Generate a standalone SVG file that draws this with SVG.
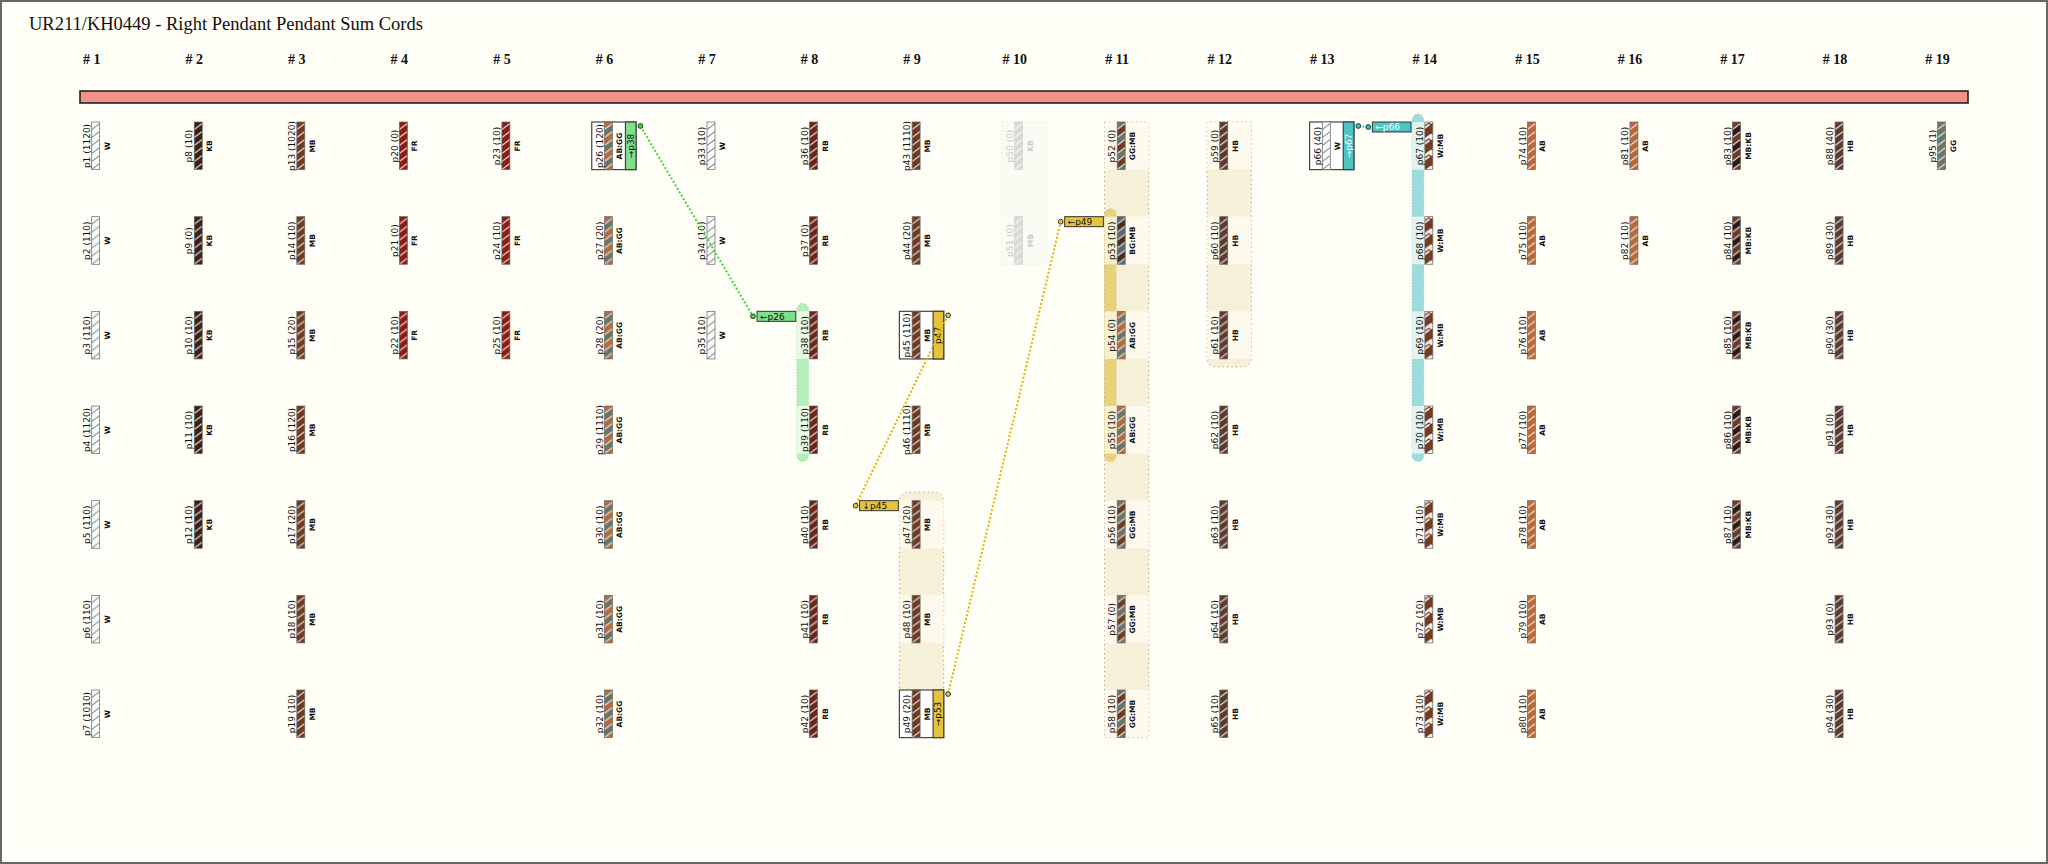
<svg xmlns="http://www.w3.org/2000/svg" width="2048" height="864" viewBox="0 0 2048 864">
<style>
.n{font-family:"DejaVu Sans",sans-serif;font-size:9px;fill:#111;text-anchor:middle}
.l{font-family:"DejaVu Sans",sans-serif;font-size:7.5px;font-weight:bold;fill:#111;text-anchor:middle}
.k{font-family:"DejaVu Sans",sans-serif;font-size:9px;fill:#111;text-anchor:middle}
.kw{fill:#fff}
.f .n,.f .l{fill:#cacaca}
.h{font-family:"Liberation Serif",serif;font-size:14px;font-weight:bold;fill:#111;text-anchor:middle}
.c{fill:#fffef6;fill-opacity:0.7}
.st{stroke:#666;stroke-width:0.7}
.box{fill:#fff;stroke:#444;stroke-width:1.2}
.band{fill:#f7f0d8;stroke:#9a9a9a;stroke-width:1;stroke-dasharray:1.2 3.3}
.tag{stroke:#333;stroke-width:1}
.tt{font-family:"DejaVu Sans",sans-serif;font-size:9px;fill:#111}
.dot{stroke:#222;stroke-width:0.9}
.cn{fill:none;stroke-width:2;stroke-dasharray:2 2}
</style>
<defs>
<pattern id="pW" patternUnits="userSpaceOnUse" width="8" height="8"><rect width="8" height="8" fill="#fafafa"/><path d="M0,7.5L8,1.5" stroke="#6a6a6a" stroke-width="1"/></pattern>
<pattern id="pKB" patternUnits="userSpaceOnUse" width="8" height="8"><rect width="8" height="8" fill="#3a2016"/><path d="M0,7.5L8,1.5" stroke="#e4dcd4" stroke-width="1.1"/></pattern>
<pattern id="pMB" patternUnits="userSpaceOnUse" width="8" height="8"><rect width="8" height="8" fill="#6e3a22"/><path d="M0,7.5L8,1.5" stroke="#e4dcd4" stroke-width="1.1"/></pattern>
<pattern id="pFR" patternUnits="userSpaceOnUse" width="8" height="8"><rect width="8" height="8" fill="#8a1d16"/><path d="M0,7.5L8,1.5" stroke="#e4dcd4" stroke-width="1.1"/></pattern>
<pattern id="pRB" patternUnits="userSpaceOnUse" width="8" height="8"><rect width="8" height="8" fill="#6b251a"/><path d="M0,7.5L8,1.5" stroke="#e4dcd4" stroke-width="1.1"/></pattern>
<pattern id="pAB" patternUnits="userSpaceOnUse" width="8" height="8"><rect width="8" height="8" fill="#b8693a"/><path d="M0,7.5L8,1.5" stroke="#ece4dc" stroke-width="1.1"/></pattern>
<pattern id="pHB" patternUnits="userSpaceOnUse" width="8" height="8"><rect width="8" height="8" fill="#5c3b2f"/><path d="M0,7.5L8,1.5" stroke="#e4dcd4" stroke-width="1.1"/></pattern>
<pattern id="pGG" patternUnits="userSpaceOnUse" width="8" height="8"><rect width="8" height="8" fill="#6b7565"/><path d="M0,7.5L8,1.5" stroke="#e4e4dc" stroke-width="1.1"/></pattern>
<pattern id="pFD" patternUnits="userSpaceOnUse" width="8" height="8"><rect width="8" height="8" fill="#dcd9d3"/><path d="M0,7.5L8,1.5" stroke="#f7f7f5" stroke-width="1.1"/></pattern>
<pattern id="pABGG" patternUnits="userSpaceOnUse" width="8" height="16"><rect width="8" height="16" fill="#b8693a"/><path d="M0,7.5L8,1.5L8,9.5L0,15.5Z" fill="#6b7565"/><path d="M0,7.5L8,1.5M0,15.5L8,9.5" stroke="#e4e0d8" stroke-width="1.1"/></pattern>
<pattern id="pGGMB" patternUnits="userSpaceOnUse" width="8" height="16"><rect width="8" height="16" fill="#6b7565"/><path d="M0,7.5L8,1.5L8,9.5L0,15.5Z" fill="#6e3a22"/><path d="M0,7.5L8,1.5M0,15.5L8,9.5" stroke="#e4e0d8" stroke-width="1.1"/></pattern>
<pattern id="pBGMB" patternUnits="userSpaceOnUse" width="8" height="16"><rect width="8" height="16" fill="#56667a"/><path d="M0,7.5L8,1.5L8,9.5L0,15.5Z" fill="#4a2c20"/><path d="M0,7.5L8,1.5M0,15.5L8,9.5" stroke="#e4e0d8" stroke-width="1.1"/></pattern>
<pattern id="pMBKB" patternUnits="userSpaceOnUse" width="8" height="16"><rect width="8" height="16" fill="#6e3a22"/><path d="M0,7.5L8,1.5L8,9.5L0,15.5Z" fill="#2e1a12"/><path d="M0,7.5L8,1.5M0,15.5L8,9.5" stroke="#e4e0d8" stroke-width="1.1"/></pattern>
<pattern id="pWMB" patternUnits="userSpaceOnUse" width="8" height="16"><rect width="8" height="16" fill="#f4efe8"/><path d="M0,7.5L8,1.5L8,9.5L0,15.5Z" fill="#7a3a20"/><path d="M0,4L4,1L8,4M0,12L4,9.5L8,12" fill="none" stroke="#7a3a20" stroke-width="1.2"/><path d="M0,7.5L8,1.5M0,15.5L8,9.5" stroke="#3a2016" stroke-width="0.8"/></pattern>
<rect id="sW" class="st" width="8" height="47.6" fill="url(#pW)"/>
<rect id="sKB" class="st" width="8" height="47.6" fill="url(#pKB)"/>
<rect id="sMB" class="st" width="8" height="47.6" fill="url(#pMB)"/>
<rect id="sFR" class="st" width="8" height="47.6" fill="url(#pFR)"/>
<rect id="sRB" class="st" width="8" height="47.6" fill="url(#pRB)"/>
<rect id="sAB" class="st" width="8" height="47.6" fill="url(#pAB)"/>
<rect id="sHB" class="st" width="8" height="47.6" fill="url(#pHB)"/>
<rect id="sGG" class="st" width="8" height="47.6" fill="url(#pGG)"/>
<rect id="sFD" width="8" height="47.6" fill="url(#pFD)" stroke="#d0d0d0" stroke-width="0.7"/>
<rect id="sABGG" class="st" width="8" height="47.6" fill="url(#pABGG)"/>
<rect id="sGGMB" class="st" width="8" height="47.6" fill="url(#pGGMB)"/>
<rect id="sBGMB" class="st" width="8" height="47.6" fill="url(#pBGMB)"/>
<rect id="sMBKB" class="st" width="8" height="47.6" fill="url(#pMBKB)"/>
<rect id="sWMB" class="st" width="8" height="47.6" fill="url(#pWMB)"/>
<rect id="cell" class="c" x="-12.7" width="44.3" height="47.6"/>
</defs>

<rect width="2048" height="864" fill="#fffef6"/>
<rect x="1" y="1" width="2046" height="862" fill="none" stroke="#666" stroke-width="2"/>
<text x="29" y="30" font-family="Liberation Serif, serif" font-size="18.5" fill="#111">UR211/KH0449 - Right Pendant Pendant Sum Cords</text>

<g id="headers">
<text class="h" x="91.7" y="64"># 1</text>
<text class="h" x="194.25" y="64"># 2</text>
<text class="h" x="296.8" y="64"># 3</text>
<text class="h" x="399.35" y="64"># 4</text>
<text class="h" x="501.9" y="64"># 5</text>
<text class="h" x="604.45" y="64"># 6</text>
<text class="h" x="707" y="64"># 7</text>
<text class="h" x="809.55" y="64"># 8</text>
<text class="h" x="912.1" y="64"># 9</text>
<text class="h" x="1014.65" y="64"># 10</text>
<text class="h" x="1117.2" y="64"># 11</text>
<text class="h" x="1219.75" y="64"># 12</text>
<text class="h" x="1322.3" y="64"># 13</text>
<text class="h" x="1424.85" y="64"># 14</text>
<text class="h" x="1527.4" y="64"># 15</text>
<text class="h" x="1629.95" y="64"># 16</text>
<text class="h" x="1732.5" y="64"># 17</text>
<text class="h" x="1835.05" y="64"># 18</text>
<text class="h" x="1937.6" y="64"># 19</text>
</g>

<rect id="primary" x="80" y="91" width="1888" height="12" fill="#f0928a" stroke="#222" stroke-width="1.6"/>

<g id="bands">
<rect x="1001.95" y="122" width="44.3" height="142.3" fill="#fcfbf3" stroke="#e0e0e0" stroke-width="1" stroke-dasharray="1.2 3.3"/>
<rect class="band" x="1104.5" y="122" width="44.3" height="615.6"/>
<path class="band" d="M899.4,737.6V502Q899.4,492 909.4,492H933.7Q943.7,492 943.7,502V737.6Z"/>
<path class="band" d="M1207.05,122V357Q1207.05,367 1217.05,367H1241.35Q1251.35,367 1251.35,357V122Z"/>
<rect x="796.85" y="303.3" width="11.6" height="158.3" rx="5.8" fill="#b3efb8" stroke="#8fd39a" stroke-width="0.8" stroke-dasharray="1.2 2"/>
<rect x="1104.5" y="208.7" width="11.6" height="252.9" rx="5.8" fill="#e8d27c" stroke="#cdb65e" stroke-width="0.8" stroke-dasharray="1.2 2"/>
<rect x="1412.15" y="114" width="11.6" height="347.6" rx="5.8" fill="#9edcdc" stroke="#7cc4c4" stroke-width="0.8" stroke-dasharray="1.2 2"/>
</g>

<g id="nodes">
<g id="p1" transform="translate(91.7,122)"><use href="#cell"/><use href="#sW"/><g transform="rotate(-90)"><text class="n" x="-24" y="-1.8">p1 (1120)</text><text class="l" x="-24" y="18">W</text></g></g>
<g id="p2" transform="translate(91.7,216.67)"><use href="#cell"/><use href="#sW"/><g transform="rotate(-90)"><text class="n" x="-24" y="-1.8">p2 (110)</text><text class="l" x="-24" y="18">W</text></g></g>
<g id="p3" transform="translate(91.7,311.33)"><use href="#cell"/><use href="#sW"/><g transform="rotate(-90)"><text class="n" x="-24" y="-1.8">p3 (110)</text><text class="l" x="-24" y="18">W</text></g></g>
<g id="p4" transform="translate(91.7,406)"><use href="#cell"/><use href="#sW"/><g transform="rotate(-90)"><text class="n" x="-24" y="-1.8">p4 (1120)</text><text class="l" x="-24" y="18">W</text></g></g>
<g id="p5" transform="translate(91.7,500.67)"><use href="#cell"/><use href="#sW"/><g transform="rotate(-90)"><text class="n" x="-24" y="-1.8">p5 (110)</text><text class="l" x="-24" y="18">W</text></g></g>
<g id="p6" transform="translate(91.7,595.33)"><use href="#cell"/><use href="#sW"/><g transform="rotate(-90)"><text class="n" x="-24" y="-1.8">p6 (110)</text><text class="l" x="-24" y="18">W</text></g></g>
<g id="p7" transform="translate(91.7,690)"><use href="#cell"/><use href="#sW"/><g transform="rotate(-90)"><text class="n" x="-24" y="-1.8">p7 (1010)</text><text class="l" x="-24" y="18">W</text></g></g>

<g id="p8" transform="translate(194.25,122)"><use href="#cell"/><use href="#sKB"/><g transform="rotate(-90)"><text class="n" x="-24" y="-1.8">p8 (10)</text><text class="l" x="-24" y="18">KB</text></g></g>
<g id="p9" transform="translate(194.25,216.67)"><use href="#cell"/><use href="#sKB"/><g transform="rotate(-90)"><text class="n" x="-24" y="-1.8">p9 (0)</text><text class="l" x="-24" y="18">KB</text></g></g>
<g id="p10" transform="translate(194.25,311.33)"><use href="#cell"/><use href="#sKB"/><g transform="rotate(-90)"><text class="n" x="-24" y="-1.8">p10 (10)</text><text class="l" x="-24" y="18">KB</text></g></g>
<g id="p11" transform="translate(194.25,406)"><use href="#cell"/><use href="#sKB"/><g transform="rotate(-90)"><text class="n" x="-24" y="-1.8">p11 (10)</text><text class="l" x="-24" y="18">KB</text></g></g>
<g id="p12" transform="translate(194.25,500.67)"><use href="#cell"/><use href="#sKB"/><g transform="rotate(-90)"><text class="n" x="-24" y="-1.8">p12 (10)</text><text class="l" x="-24" y="18">KB</text></g></g>

<g id="p13" transform="translate(296.8,122)"><use href="#cell"/><use href="#sMB"/><g transform="rotate(-90)"><text class="n" x="-24" y="-1.8">p13 (1020)</text><text class="l" x="-24" y="18">MB</text></g></g>
<g id="p14" transform="translate(296.8,216.67)"><use href="#cell"/><use href="#sMB"/><g transform="rotate(-90)"><text class="n" x="-24" y="-1.8">p14 (10)</text><text class="l" x="-24" y="18">MB</text></g></g>
<g id="p15" transform="translate(296.8,311.33)"><use href="#cell"/><use href="#sMB"/><g transform="rotate(-90)"><text class="n" x="-24" y="-1.8">p15 (20)</text><text class="l" x="-24" y="18">MB</text></g></g>
<g id="p16" transform="translate(296.8,406)"><use href="#cell"/><use href="#sMB"/><g transform="rotate(-90)"><text class="n" x="-24" y="-1.8">p16 (120)</text><text class="l" x="-24" y="18">MB</text></g></g>
<g id="p17" transform="translate(296.8,500.67)"><use href="#cell"/><use href="#sMB"/><g transform="rotate(-90)"><text class="n" x="-24" y="-1.8">p17 (20)</text><text class="l" x="-24" y="18">MB</text></g></g>
<g id="p18" transform="translate(296.8,595.33)"><use href="#cell"/><use href="#sMB"/><g transform="rotate(-90)"><text class="n" x="-24" y="-1.8">p18 (10)</text><text class="l" x="-24" y="18">MB</text></g></g>
<g id="p19" transform="translate(296.8,690)"><use href="#cell"/><use href="#sMB"/><g transform="rotate(-90)"><text class="n" x="-24" y="-1.8">p19 (10)</text><text class="l" x="-24" y="18">MB</text></g></g>

<g id="p20" transform="translate(399.35,122)"><use href="#cell"/><use href="#sFR"/><g transform="rotate(-90)"><text class="n" x="-24" y="-1.8">p20 (0)</text><text class="l" x="-24" y="18">FR</text></g></g>
<g id="p21" transform="translate(399.35,216.67)"><use href="#cell"/><use href="#sFR"/><g transform="rotate(-90)"><text class="n" x="-24" y="-1.8">p21 (0)</text><text class="l" x="-24" y="18">FR</text></g></g>
<g id="p22" transform="translate(399.35,311.33)"><use href="#cell"/><use href="#sFR"/><g transform="rotate(-90)"><text class="n" x="-24" y="-1.8">p22 (10)</text><text class="l" x="-24" y="18">FR</text></g></g>

<g id="p23" transform="translate(501.9,122)"><use href="#cell"/><use href="#sFR"/><g transform="rotate(-90)"><text class="n" x="-24" y="-1.8">p23 (10)</text><text class="l" x="-24" y="18">FR</text></g></g>
<g id="p24" transform="translate(501.9,216.67)"><use href="#cell"/><use href="#sFR"/><g transform="rotate(-90)"><text class="n" x="-24" y="-1.8">p24 (10)</text><text class="l" x="-24" y="18">FR</text></g></g>
<g id="p25" transform="translate(501.9,311.33)"><use href="#cell"/><use href="#sFR"/><g transform="rotate(-90)"><text class="n" x="-24" y="-1.8">p25 (10)</text><text class="l" x="-24" y="18">FR</text></g></g>

<g id="p26" transform="translate(604.45,122)"><rect class="box" x="-12.7" width="44.3" height="47.6"/><rect x="21" width="10.6" height="47.6" fill="#7ee08a" stroke="#444" stroke-width="1.2"/><use href="#sABGG"/><g transform="rotate(-90)"><text class="n" x="-24" y="-1.8">p26 (120)</text><text class="l" x="-24" y="18">AB:GG</text><text class="k" x="-24" y="29.3">→p38</text></g></g>
<g id="p27" transform="translate(604.45,216.67)"><use href="#cell"/><use href="#sABGG"/><g transform="rotate(-90)"><text class="n" x="-24" y="-1.8">p27 (20)</text><text class="l" x="-24" y="18">AB:GG</text></g></g>
<g id="p28" transform="translate(604.45,311.33)"><use href="#cell"/><use href="#sABGG"/><g transform="rotate(-90)"><text class="n" x="-24" y="-1.8">p28 (20)</text><text class="l" x="-24" y="18">AB:GG</text></g></g>
<g id="p29" transform="translate(604.45,406)"><use href="#cell"/><use href="#sABGG"/><g transform="rotate(-90)"><text class="n" x="-24" y="-1.8">p29 (1110)</text><text class="l" x="-24" y="18">AB:GG</text></g></g>
<g id="p30" transform="translate(604.45,500.67)"><use href="#cell"/><use href="#sABGG"/><g transform="rotate(-90)"><text class="n" x="-24" y="-1.8">p30 (10)</text><text class="l" x="-24" y="18">AB:GG</text></g></g>
<g id="p31" transform="translate(604.45,595.33)"><use href="#cell"/><use href="#sABGG"/><g transform="rotate(-90)"><text class="n" x="-24" y="-1.8">p31 (10)</text><text class="l" x="-24" y="18">AB:GG</text></g></g>
<g id="p32" transform="translate(604.45,690)"><use href="#cell"/><use href="#sABGG"/><g transform="rotate(-90)"><text class="n" x="-24" y="-1.8">p32 (10)</text><text class="l" x="-24" y="18">AB:GG</text></g></g>

<g id="p33" transform="translate(707,122)"><use href="#cell"/><use href="#sW"/><g transform="rotate(-90)"><text class="n" x="-24" y="-1.8">p33 (10)</text><text class="l" x="-24" y="18">W</text></g></g>
<g id="p34" transform="translate(707,216.67)"><use href="#cell"/><use href="#sW"/><g transform="rotate(-90)"><text class="n" x="-24" y="-1.8">p34 (10)</text><text class="l" x="-24" y="18">W</text></g></g>
<g id="p35" transform="translate(707,311.33)"><use href="#cell"/><use href="#sW"/><g transform="rotate(-90)"><text class="n" x="-24" y="-1.8">p35 (10)</text><text class="l" x="-24" y="18">W</text></g></g>

<g id="p36" transform="translate(809.55,122)"><use href="#cell"/><use href="#sRB"/><g transform="rotate(-90)"><text class="n" x="-24" y="-1.8">p36 (10)</text><text class="l" x="-24" y="18">RB</text></g></g>
<g id="p37" transform="translate(809.55,216.67)"><use href="#cell"/><use href="#sRB"/><g transform="rotate(-90)"><text class="n" x="-24" y="-1.8">p37 (0)</text><text class="l" x="-24" y="18">RB</text></g></g>
<g id="p38" transform="translate(809.55,311.33)"><use href="#cell"/><use href="#sRB"/><g transform="rotate(-90)"><text class="n" x="-24" y="-1.8">p38 (10)</text><text class="l" x="-24" y="18">RB</text></g></g>
<g id="p39" transform="translate(809.55,406)"><use href="#cell"/><use href="#sRB"/><g transform="rotate(-90)"><text class="n" x="-24" y="-1.8">p39 (110)</text><text class="l" x="-24" y="18">RB</text></g></g>
<g id="p40" transform="translate(809.55,500.67)"><use href="#cell"/><use href="#sRB"/><g transform="rotate(-90)"><text class="n" x="-24" y="-1.8">p40 (10)</text><text class="l" x="-24" y="18">RB</text></g></g>
<g id="p41" transform="translate(809.55,595.33)"><use href="#cell"/><use href="#sRB"/><g transform="rotate(-90)"><text class="n" x="-24" y="-1.8">p41 (10)</text><text class="l" x="-24" y="18">RB</text></g></g>
<g id="p42" transform="translate(809.55,690)"><use href="#cell"/><use href="#sRB"/><g transform="rotate(-90)"><text class="n" x="-24" y="-1.8">p42 (10)</text><text class="l" x="-24" y="18">RB</text></g></g>

<g id="p43" transform="translate(912.1,122)"><use href="#cell"/><use href="#sMB"/><g transform="rotate(-90)"><text class="n" x="-24" y="-1.8">p43 (1110)</text><text class="l" x="-24" y="18">MB</text></g></g>
<g id="p44" transform="translate(912.1,216.67)"><use href="#cell"/><use href="#sMB"/><g transform="rotate(-90)"><text class="n" x="-24" y="-1.8">p44 (20)</text><text class="l" x="-24" y="18">MB</text></g></g>
<g id="p45" transform="translate(912.1,311.33)"><rect class="box" x="-12.7" width="44.3" height="47.6"/><rect x="21" width="10.6" height="47.6" fill="#e5c43c" stroke="#444" stroke-width="1.2"/><use href="#sMB"/><g transform="rotate(-90)"><text class="n" x="-24" y="-1.8">p45 (110)</text><text class="l" x="-24" y="18">MB</text><text class="k" x="-24" y="29.3">p47</text></g></g>
<g id="p46" transform="translate(912.1,406)"><use href="#cell"/><use href="#sMB"/><g transform="rotate(-90)"><text class="n" x="-24" y="-1.8">p46 (1110)</text><text class="l" x="-24" y="18">MB</text></g></g>
<g id="p47" transform="translate(912.1,500.67)"><use href="#cell"/><use href="#sMB"/><g transform="rotate(-90)"><text class="n" x="-24" y="-1.8">p47 (20)</text><text class="l" x="-24" y="18">MB</text></g></g>
<g id="p48" transform="translate(912.1,595.33)"><use href="#cell"/><use href="#sMB"/><g transform="rotate(-90)"><text class="n" x="-24" y="-1.8">p48 (10)</text><text class="l" x="-24" y="18">MB</text></g></g>
<g id="p49" transform="translate(912.1,690)"><rect class="box" x="-12.7" width="44.3" height="47.6"/><rect x="21" width="10.6" height="47.6" fill="#e5c43c" stroke="#444" stroke-width="1.2"/><use href="#sMB"/><g transform="rotate(-90)"><text class="n" x="-24" y="-1.8">p49 (20)</text><text class="l" x="-24" y="18">MB</text><text class="k" x="-24" y="29.3">→p53</text></g></g>

<g id="p50" class="f" transform="translate(1014.65,122)"><use href="#sFD"/><g transform="rotate(-90)"><text class="n" x="-24" y="-1.8">p50 (0)</text><text class="l" x="-24" y="18">KB</text></g></g>
<g id="p51" class="f" transform="translate(1014.65,216.67)"><use href="#sFD"/><g transform="rotate(-90)"><text class="n" x="-24" y="-1.8">p51 (0)</text><text class="l" x="-24" y="18">MB</text></g></g>

<g id="p52" transform="translate(1117.2,122)"><use href="#cell"/><use href="#sGGMB"/><g transform="rotate(-90)"><text class="n" x="-24" y="-1.8">p52 (0)</text><text class="l" x="-24" y="18">GG:MB</text></g></g>
<g id="p53" transform="translate(1117.2,216.67)"><use href="#cell"/><use href="#sBGMB"/><g transform="rotate(-90)"><text class="n" x="-24" y="-1.8">p53 (10)</text><text class="l" x="-24" y="18">BG:MB</text></g></g>
<g id="p54" transform="translate(1117.2,311.33)"><use href="#cell"/><use href="#sABGG"/><g transform="rotate(-90)"><text class="n" x="-24" y="-1.8">p54 (0)</text><text class="l" x="-24" y="18">AB:GG</text></g></g>
<g id="p55" transform="translate(1117.2,406)"><use href="#cell"/><use href="#sABGG"/><g transform="rotate(-90)"><text class="n" x="-24" y="-1.8">p55 (10)</text><text class="l" x="-24" y="18">AB:GG</text></g></g>
<g id="p56" transform="translate(1117.2,500.67)"><use href="#cell"/><use href="#sGGMB"/><g transform="rotate(-90)"><text class="n" x="-24" y="-1.8">p56 (10)</text><text class="l" x="-24" y="18">GG:MB</text></g></g>
<g id="p57" transform="translate(1117.2,595.33)"><use href="#cell"/><use href="#sGGMB"/><g transform="rotate(-90)"><text class="n" x="-24" y="-1.8">p57 (0)</text><text class="l" x="-24" y="18">GG:MB</text></g></g>
<g id="p58" transform="translate(1117.2,690)"><use href="#cell"/><use href="#sGGMB"/><g transform="rotate(-90)"><text class="n" x="-24" y="-1.8">p58 (10)</text><text class="l" x="-24" y="18">GG:MB</text></g></g>

<g id="p59" transform="translate(1219.75,122)"><use href="#cell"/><use href="#sHB"/><g transform="rotate(-90)"><text class="n" x="-24" y="-1.8">p59 (0)</text><text class="l" x="-24" y="18">HB</text></g></g>
<g id="p60" transform="translate(1219.75,216.67)"><use href="#cell"/><use href="#sHB"/><g transform="rotate(-90)"><text class="n" x="-24" y="-1.8">p60 (10)</text><text class="l" x="-24" y="18">HB</text></g></g>
<g id="p61" transform="translate(1219.75,311.33)"><use href="#cell"/><use href="#sHB"/><g transform="rotate(-90)"><text class="n" x="-24" y="-1.8">p61 (10)</text><text class="l" x="-24" y="18">HB</text></g></g>
<g id="p62" transform="translate(1219.75,406)"><use href="#cell"/><use href="#sHB"/><g transform="rotate(-90)"><text class="n" x="-24" y="-1.8">p62 (10)</text><text class="l" x="-24" y="18">HB</text></g></g>
<g id="p63" transform="translate(1219.75,500.67)"><use href="#cell"/><use href="#sHB"/><g transform="rotate(-90)"><text class="n" x="-24" y="-1.8">p63 (10)</text><text class="l" x="-24" y="18">HB</text></g></g>
<g id="p64" transform="translate(1219.75,595.33)"><use href="#cell"/><use href="#sHB"/><g transform="rotate(-90)"><text class="n" x="-24" y="-1.8">p64 (10)</text><text class="l" x="-24" y="18">HB</text></g></g>
<g id="p65" transform="translate(1219.75,690)"><use href="#cell"/><use href="#sHB"/><g transform="rotate(-90)"><text class="n" x="-24" y="-1.8">p65 (10)</text><text class="l" x="-24" y="18">HB</text></g></g>

<g id="p66" transform="translate(1322.3,122)"><rect class="box" x="-12.7" width="44.3" height="47.6"/><rect x="21" width="10.6" height="47.6" fill="#4cc4c4" stroke="#444" stroke-width="1.2"/><use href="#sW"/><g transform="rotate(-90)"><text class="n" x="-24" y="-1.8">p66 (40)</text><text class="l" x="-24" y="18">W</text><text class="k kw" x="-24" y="29.3">→p67</text></g></g>

<g id="p67" transform="translate(1424.85,122)"><use href="#cell"/><use href="#sWMB"/><g transform="rotate(-90)"><text class="n" x="-24" y="-1.8">p67 (10)</text><text class="l" x="-24" y="18">W:MB</text></g></g>
<g id="p68" transform="translate(1424.85,216.67)"><use href="#cell"/><use href="#sWMB"/><g transform="rotate(-90)"><text class="n" x="-24" y="-1.8">p68 (10)</text><text class="l" x="-24" y="18">W:MB</text></g></g>
<g id="p69" transform="translate(1424.85,311.33)"><use href="#cell"/><use href="#sWMB"/><g transform="rotate(-90)"><text class="n" x="-24" y="-1.8">p69 (10)</text><text class="l" x="-24" y="18">W:MB</text></g></g>
<g id="p70" transform="translate(1424.85,406)"><use href="#cell"/><use href="#sWMB"/><g transform="rotate(-90)"><text class="n" x="-24" y="-1.8">p70 (10)</text><text class="l" x="-24" y="18">W:MB</text></g></g>
<g id="p71" transform="translate(1424.85,500.67)"><use href="#cell"/><use href="#sWMB"/><g transform="rotate(-90)"><text class="n" x="-24" y="-1.8">p71 (10)</text><text class="l" x="-24" y="18">W:MB</text></g></g>
<g id="p72" transform="translate(1424.85,595.33)"><use href="#cell"/><use href="#sWMB"/><g transform="rotate(-90)"><text class="n" x="-24" y="-1.8">p72 (10)</text><text class="l" x="-24" y="18">W:MB</text></g></g>
<g id="p73" transform="translate(1424.85,690)"><use href="#cell"/><use href="#sWMB"/><g transform="rotate(-90)"><text class="n" x="-24" y="-1.8">p73 (10)</text><text class="l" x="-24" y="18">W:MB</text></g></g>

<g id="p74" transform="translate(1527.4,122)"><use href="#cell"/><use href="#sAB"/><g transform="rotate(-90)"><text class="n" x="-24" y="-1.8">p74 (10)</text><text class="l" x="-24" y="18">AB</text></g></g>
<g id="p75" transform="translate(1527.4,216.67)"><use href="#cell"/><use href="#sAB"/><g transform="rotate(-90)"><text class="n" x="-24" y="-1.8">p75 (10)</text><text class="l" x="-24" y="18">AB</text></g></g>
<g id="p76" transform="translate(1527.4,311.33)"><use href="#cell"/><use href="#sAB"/><g transform="rotate(-90)"><text class="n" x="-24" y="-1.8">p76 (10)</text><text class="l" x="-24" y="18">AB</text></g></g>
<g id="p77" transform="translate(1527.4,406)"><use href="#cell"/><use href="#sAB"/><g transform="rotate(-90)"><text class="n" x="-24" y="-1.8">p77 (10)</text><text class="l" x="-24" y="18">AB</text></g></g>
<g id="p78" transform="translate(1527.4,500.67)"><use href="#cell"/><use href="#sAB"/><g transform="rotate(-90)"><text class="n" x="-24" y="-1.8">p78 (10)</text><text class="l" x="-24" y="18">AB</text></g></g>
<g id="p79" transform="translate(1527.4,595.33)"><use href="#cell"/><use href="#sAB"/><g transform="rotate(-90)"><text class="n" x="-24" y="-1.8">p79 (10)</text><text class="l" x="-24" y="18">AB</text></g></g>
<g id="p80" transform="translate(1527.4,690)"><use href="#cell"/><use href="#sAB"/><g transform="rotate(-90)"><text class="n" x="-24" y="-1.8">p80 (10)</text><text class="l" x="-24" y="18">AB</text></g></g>

<g id="p81" transform="translate(1629.95,122)"><use href="#cell"/><use href="#sAB"/><g transform="rotate(-90)"><text class="n" x="-24" y="-1.8">p81 (10)</text><text class="l" x="-24" y="18">AB</text></g></g>
<g id="p82" transform="translate(1629.95,216.67)"><use href="#cell"/><use href="#sAB"/><g transform="rotate(-90)"><text class="n" x="-24" y="-1.8">p82 (10)</text><text class="l" x="-24" y="18">AB</text></g></g>

<g id="p83" transform="translate(1732.5,122)"><use href="#cell"/><use href="#sMBKB"/><g transform="rotate(-90)"><text class="n" x="-24" y="-1.8">p83 (10)</text><text class="l" x="-24" y="18">MB:KB</text></g></g>
<g id="p84" transform="translate(1732.5,216.67)"><use href="#cell"/><use href="#sMBKB"/><g transform="rotate(-90)"><text class="n" x="-24" y="-1.8">p84 (10)</text><text class="l" x="-24" y="18">MB:KB</text></g></g>
<g id="p85" transform="translate(1732.5,311.33)"><use href="#cell"/><use href="#sMBKB"/><g transform="rotate(-90)"><text class="n" x="-24" y="-1.8">p85 (10)</text><text class="l" x="-24" y="18">MB:KB</text></g></g>
<g id="p86" transform="translate(1732.5,406)"><use href="#cell"/><use href="#sMBKB"/><g transform="rotate(-90)"><text class="n" x="-24" y="-1.8">p86 (10)</text><text class="l" x="-24" y="18">MB:KB</text></g></g>
<g id="p87" transform="translate(1732.5,500.67)"><use href="#cell"/><use href="#sMBKB"/><g transform="rotate(-90)"><text class="n" x="-24" y="-1.8">p87 (10)</text><text class="l" x="-24" y="18">MB:KB</text></g></g>

<g id="p88" transform="translate(1835.05,122)"><use href="#cell"/><use href="#sHB"/><g transform="rotate(-90)"><text class="n" x="-24" y="-1.8">p88 (40)</text><text class="l" x="-24" y="18">HB</text></g></g>
<g id="p89" transform="translate(1835.05,216.67)"><use href="#cell"/><use href="#sHB"/><g transform="rotate(-90)"><text class="n" x="-24" y="-1.8">p89 (30)</text><text class="l" x="-24" y="18">HB</text></g></g>
<g id="p90" transform="translate(1835.05,311.33)"><use href="#cell"/><use href="#sHB"/><g transform="rotate(-90)"><text class="n" x="-24" y="-1.8">p90 (30)</text><text class="l" x="-24" y="18">HB</text></g></g>
<g id="p91" transform="translate(1835.05,406)"><use href="#cell"/><use href="#sHB"/><g transform="rotate(-90)"><text class="n" x="-24" y="-1.8">p91 (0)</text><text class="l" x="-24" y="18">HB</text></g></g>
<g id="p92" transform="translate(1835.05,500.67)"><use href="#cell"/><use href="#sHB"/><g transform="rotate(-90)"><text class="n" x="-24" y="-1.8">p92 (30)</text><text class="l" x="-24" y="18">HB</text></g></g>
<g id="p93" transform="translate(1835.05,595.33)"><use href="#cell"/><use href="#sHB"/><g transform="rotate(-90)"><text class="n" x="-24" y="-1.8">p93 (0)</text><text class="l" x="-24" y="18">HB</text></g></g>
<g id="p94" transform="translate(1835.05,690)"><use href="#cell"/><use href="#sHB"/><g transform="rotate(-90)"><text class="n" x="-24" y="-1.8">p94 (30)</text><text class="l" x="-24" y="18">HB</text></g></g>

<g id="p95" transform="translate(1937.6,122)"><use href="#cell"/><use href="#sGG"/><g transform="rotate(-90)"><text class="n" x="-24" y="-1.8">p95 (1)</text><text class="l" x="-24" y="18">GG</text></g></g>
</g>

<g id="tags">
<g id="tag-p26"><rect class="tag" x="757.05" y="311.33" width="38.7" height="10" fill="#7ee08a"/><text class="tt" x="760" y="319.6">←p26</text></g>
<g id="tag-p45"><rect class="tag" x="859.6" y="500.67" width="38.7" height="10" fill="#e5c43c"/><text class="tt" x="862.5" y="509">↓p45</text></g>
<g id="tag-p49"><rect class="tag" x="1064.7" y="216.67" width="38.7" height="10" fill="#e5c43c"/><text class="tt" x="1067.6" y="225">←p49</text></g>
<g id="tag-p66"><rect class="tag" x="1372.35" y="122" width="38.7" height="10" fill="#4cc4c4"/><text class="tt" x="1375.3" y="130.3" style="fill:#fff">←p66</text></g>
</g>

<g id="connectors">
<path class="cn" d="M640.45,126L753,316.3" stroke="#3ad83a"/>
<path class="cn" d="M948.1,315.3L855.6,505.7" stroke="#e0b400"/>
<path class="cn" d="M948.1,694L1060.7,221.7" stroke="#e0b400"/>
<path class="cn" d="M1358.3,126L1368.3,127" stroke="#35c0c0"/>
<circle class="dot" cx="640.45" cy="126" r="2.4" fill="#3ad83a"/>
<circle class="dot" cx="753" cy="316.3" r="2.4" fill="#3ad83a"/>
<circle class="dot" cx="948.1" cy="315.3" r="2.4" fill="#e5c43c"/>
<circle class="dot" cx="855.6" cy="505.7" r="2.4" fill="#e5c43c"/>
<circle class="dot" cx="948.1" cy="694" r="2.4" fill="#e5c43c"/>
<circle class="dot" cx="1060.7" cy="221.7" r="2.4" fill="#e5c43c"/>
<circle class="dot" cx="1358.3" cy="126" r="2.4" fill="#35c0c0"/>
<circle class="dot" cx="1368.3" cy="127" r="2.4" fill="#35c0c0"/>
</g>
</svg>
